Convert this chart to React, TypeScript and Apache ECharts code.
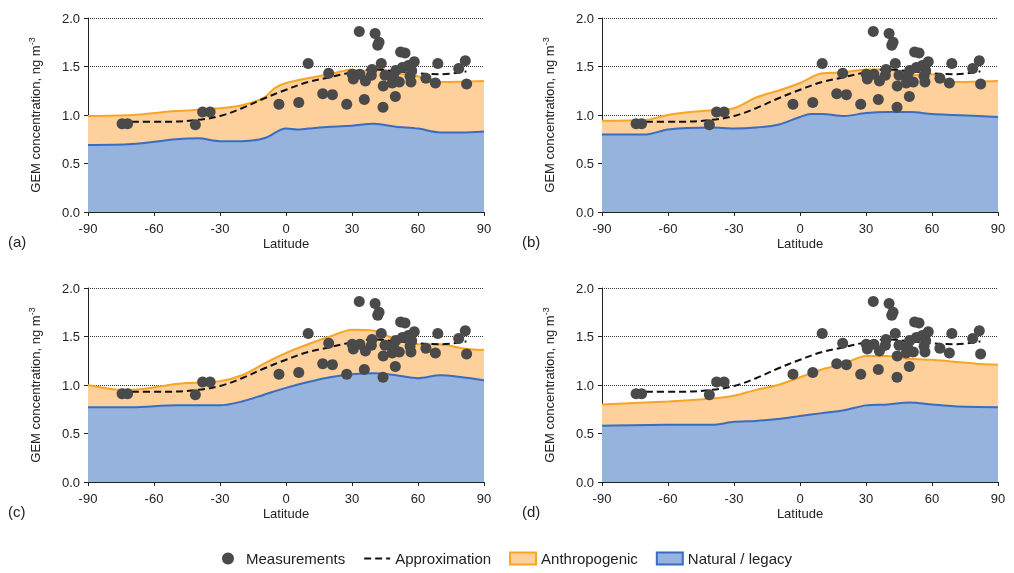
import React, { useEffect, useRef } from "react";
import * as echarts from "echarts";

const measurements: [number, number][] = [
  [-74.5, 0.91], [-72, 0.91], [-41.2, 0.9], [-37.9, 1.03], [-34.5, 1.03], [-3.2, 1.11], [5.8, 1.13],
  [10.1, 1.53], [16.7, 1.22], [19.4, 1.43], [21.1, 1.21], [27.6, 1.11], [30.1, 1.42], [30.6, 1.37],
  [33.3, 1.86], [33.6, 1.42], [35.6, 1.16], [36.1, 1.35], [38.8, 1.41], [39.1, 1.47], [40.5, 1.84],
  [41.7, 1.72], [42.3, 1.75], [43.3, 1.53], [44.1, 1.08], [44.2, 1.3], [45, 1.41], [48.3, 1.33],
  [48.8, 1.4], [49.7, 1.19], [49.9, 1.46], [51.5, 1.34], [52.1, 1.65], [52.9, 1.49], [54.1, 1.64],
  [55.6, 1.51], [56.4, 1.4], [56.8, 1.34], [57.1, 1.46], [58.3, 1.55], [63.6, 1.38], [67.9, 1.33],
  [69, 1.53], [78.5, 1.48], [81.5, 1.56], [82.1, 1.32],
];
const approximation: [number, number][] = [
  [-75, 0.93], [-55, 0.93], [-40, 0.95], [-30, 0.99], [-20, 1.07], [-10, 1.17], [0, 1.26],
  [10, 1.34], [20, 1.39], [30, 1.44], [40, 1.47], [50, 1.45], [60, 1.43], [70, 1.42], [82, 1.45],
];
const anthroA: [number, number][] = [[-90, 0.99], [-70, 1.0], [-50, 1.04], [-30, 1.07], [-20, 1.1], [-10, 1.18], [-5, 1.28], [0, 1.33], [10, 1.38], [20, 1.42], [30, 1.47], [35, 1.45], [40, 1.49], [50, 1.43], [60, 1.4], [65, 1.36], [70, 1.34], [90, 1.35]];
const naturalA: [number, number][] = [[-90, 0.69], [-70, 0.7], [-50, 0.75], [-40, 0.76], [-30, 0.73], [-20, 0.73], [-10, 0.76], [0, 0.86], [5, 0.85], [10, 0.86], [20, 0.88], [30, 0.89], [40, 0.91], [50, 0.88], [60, 0.86], [70, 0.82], [80, 0.82], [90, 0.83]];
const anthroB: [number, number][] = [[-90, 0.94], [-70, 0.95], [-60, 1.0], [-50, 1.03], [-40, 1.05], [-30, 1.07], [-20, 1.18], [-10, 1.25], [0, 1.33], [10, 1.43], [20, 1.44], [30, 1.47], [40, 1.47], [50, 1.41], [60, 1.42], [70, 1.34], [90, 1.35]];
const naturalB: [number, number][] = [[-90, 0.8], [-70, 0.8], [-60, 0.85], [-40, 0.87], [-30, 0.86], [-20, 0.87], [-10, 0.9], [0, 0.98], [5, 1.01], [10, 1.01], [20, 0.99], [30, 1.02], [40, 1.03], [50, 1.03], [60, 1.01], [70, 1.0], [90, 0.98]];
const anthroC: [number, number][] = [[-90, 1.0], [-75, 0.95], [-70, 0.95], [-50, 1.01], [-30, 1.04], [-20, 1.1], [-10, 1.22], [0, 1.33], [10, 1.42], [20, 1.5], [30, 1.57], [40, 1.56], [50, 1.47], [60, 1.42], [70, 1.42], [80, 1.38], [90, 1.36]];
const naturalC: [number, number][] = [[-90, 0.77], [-70, 0.77], [-50, 0.79], [-30, 0.79], [-20, 0.83], [-10, 0.9], [0, 0.97], [10, 1.03], [20, 1.08], [30, 1.11], [40, 1.12], [50, 1.1], [60, 1.07], [70, 1.1], [80, 1.08], [90, 1.05]];
const anthroD: [number, number][] = [[-90, 0.8], [-60, 0.83], [-40, 0.86], [-30, 0.89], [-20, 0.95], [-10, 1.0], [0, 1.08], [10, 1.16], [20, 1.22], [30, 1.3], [40, 1.3], [50, 1.27], [60, 1.26], [70, 1.24], [80, 1.22], [90, 1.21]];
const naturalD: [number, number][] = [[-90, 0.58], [-60, 0.59], [-40, 0.59], [-30, 0.62], [-20, 0.63], [-10, 0.65], [0, 0.68], [10, 0.71], [20, 0.74], [30, 0.79], [40, 0.8], [50, 0.82], [60, 0.8], [70, 0.78], [90, 0.77]];

const panels = [
  { label: "(a)", anthro: anthroA, natural: naturalA, left: 88, top: 18 },
  { label: "(b)", anthro: anthroB, natural: naturalB, left: 602, top: 18 },
  { label: "(c)", anthro: anthroC, natural: naturalC, left: 88, top: 288 },
  { label: "(d)", anthro: anthroD, natural: naturalD, left: 602, top: 288 },
];

const FONT = "Liberation Sans";

export default function App() {
  const ref = useRef<HTMLDivElement>(null);
  useEffect(() => {
    const chart = echarts.init(ref.current!, null, { renderer: "svg" });
    const grid: any[] = [], xAxis: any[] = [], yAxis: any[] = [], series: any[] = [], graphic: any[] = [];
    panels.forEach((p, i) => {
      grid.push({ left: p.left, top: p.top, width: 396, height: 194 });
      xAxis.push({
        type: "value", gridIndex: i, min: -90, max: 90, interval: 30,
        name: "Latitude", nameLocation: "middle", nameGap: 25,
        nameTextStyle: { fontFamily: FONT, fontSize: 13, color: "#222" },
        axisLine: { onZero: false, lineStyle: { color: "#222" } }, axisTick: { show: true, length: 4, lineStyle: { color: "#222" } },
        axisLabel: { fontFamily: FONT, fontSize: 13, color: "#222", margin: 10 },
        splitLine: { show: false },
      });
      yAxis.push({
        type: "value", gridIndex: i, min: 0, max: 2, interval: 0.5,
        name: "GEM concentration, ng m{sup|-3}", nameLocation: "middle", nameGap: 44, nameRotate: 90,
        nameTextStyle: { fontFamily: FONT, fontSize: 13, color: "#222", rich: { sup: { fontSize: 9, verticalAlign: "top", padding: [0, 0, 8, 0], fontFamily: FONT, color: "#222" } } },
        axisLine: { show: true, onZero: false, lineStyle: { color: "#222" } }, axisTick: { show: true, length: 4, lineStyle: { color: "#222" } },
        axisLabel: { fontFamily: FONT, fontSize: 13, color: "#222", formatter: (v: number) => v.toFixed(1) },
        splitLine: { show: true, lineStyle: { type: "dotted", color: "#333", width: 1 } },
      });
      series.push({
        name: "Anthropogenic", type: "line", xAxisIndex: i, yAxisIndex: i, data: p.anthro, symbol: "none", smooth: 0.3,
        lineStyle: { color: "#f8a526", width: 2 }, itemStyle: { color: "#fdd09c", borderColor: "#f8a526", borderWidth: 2 },
        areaStyle: { color: "#fdd09c", opacity: 1 }, z: 1,
      });
      series.push({
        name: "Natural / legacy", type: "line", xAxisIndex: i, yAxisIndex: i, data: p.natural, symbol: "none", smooth: 0.3,
        lineStyle: { color: "#3a6cc0", width: 2 }, itemStyle: { color: "#95b3dc", borderColor: "#3a6cc0", borderWidth: 2 },
        areaStyle: { color: "#95b3dc", opacity: 1 }, z: 2,
      });
      series.push({
        name: "Approximation", type: "line", xAxisIndex: i, yAxisIndex: i, data: approximation, symbol: "none", smooth: 0.4,
        lineStyle: { color: "#111", width: 2, type: [7, 4] }, itemStyle: { color: "#111" }, z: 3,
      });
      series.push({
        name: "Measurements", type: "scatter", xAxisIndex: i, yAxisIndex: i, data: measurements, symbolSize: 11,
        itemStyle: { color: "#4a4a4a", opacity: 1 }, z: 4,
      });
      graphic.push({
        type: "text", left: p.left - 80, top: p.top + 216,
        style: { text: p.label, font: `15px "${FONT}"`, fill: "#222" },
      });
    });
    chart.setOption({
      animation: false,
      grid, xAxis, yAxis, series, graphic,
      legend: {
        bottom: 2, left: "center", itemGap: 18, itemWidth: 26, itemHeight: 12,
        textStyle: { fontFamily: FONT, fontSize: 15, color: "#222" },
        data: [
          { name: "Measurements", icon: "circle" },
          { name: "Approximation", itemStyle: { opacity: 0 } },
          { name: "Anthropogenic", icon: "rect" },
          { name: "Natural / legacy", icon: "rect" },
        ],
      },
    });
    return () => chart.dispose();
  }, []);
  return <div ref={ref} style={{ position: "fixed", left: 0, top: 0, width: 1014, height: 573 }} />;
}
